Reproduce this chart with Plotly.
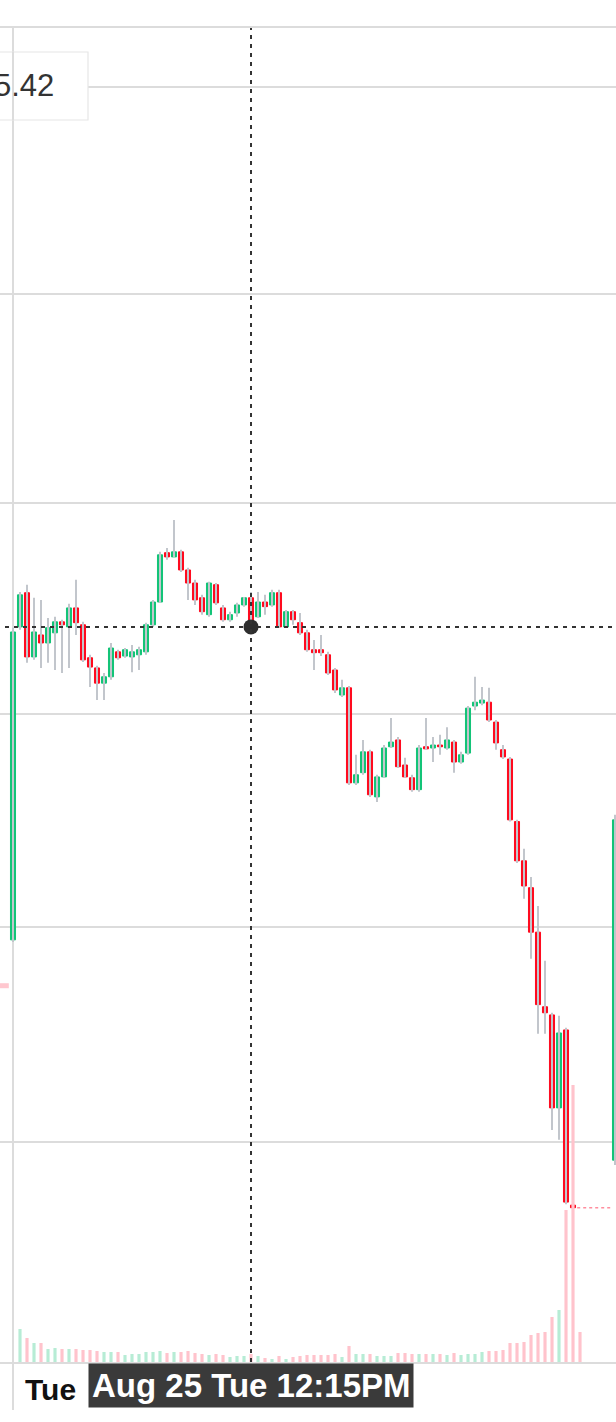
import plotly.graph_objects as go

# ---------------- data ----------------
# bar slots (5-minute bars of the session; slot 86 = first bar of the next session)
bar_slot = list(range(81)) + [86]
opens = [5.3470, 5.4206, 5.4287, 5.4135, 5.4187, 5.4168, 5.4192, 5.4218, 5.4206, 5.4251,
         5.4211, 5.4133, 5.4109, 5.4073, 5.4088, 5.4147, 5.4137, 5.4135, 5.4140, 5.4147,
         5.4211, 5.4265, 5.4382, 5.4372, 5.4384, 5.4341, 5.4310, 5.4275, 5.4235, 5.4306,
         5.4251, 5.4223, 5.4239, 5.4258, 5.4275, 5.4230, 5.4265, 5.4258, 5.4287, 5.4206,
         5.4242, 5.4216, 5.4192, 5.4152, 5.4152, 5.4140, 5.4104, 5.4045, 5.4062, 5.3838,
         5.3862, 5.3911, 5.3805, 5.3852, 5.3923, 5.3939, 5.3880, 5.3850, 5.3822, 5.3923,
         5.3920, 5.3927, 5.3920, 5.3934, 5.3887, 5.3908, 5.4019, 5.4026, 5.4028, 5.3981,
         5.3916, 5.3894, 5.3747, 5.3655, 5.3592, 5.3488, 5.3314, 5.3295, 5.3079, 5.3260,
         5.2854, 5.2958]
highs = [5.4204, 5.4289, 5.4306, 5.4275, 5.4270, 5.4227, 5.4230, 5.4223, 5.4261, 5.4318,
         5.4218, 5.4140, 5.4114, 5.4097, 5.4168, 5.4152, 5.4156, 5.4163, 5.4159, 5.4216,
         5.4270, 5.4384, 5.4393, 5.4460, 5.4389, 5.4346, 5.4318, 5.4282, 5.4313, 5.4310,
         5.4258, 5.4242, 5.4263, 5.4277, 5.4289, 5.4289, 5.4282, 5.4294, 5.4294, 5.4246,
         5.4246, 5.4239, 5.4199, 5.4175, 5.4187, 5.4147, 5.4109, 5.4081, 5.4066, 5.3904,
         5.3939, 5.3916, 5.3857, 5.3927, 5.3991, 5.3946, 5.3897, 5.3857, 5.3927, 5.3991,
         5.3946, 5.3951, 5.3969, 5.3939, 5.3911, 5.4019, 5.4088, 5.4064, 5.4062, 5.3986,
         5.3927, 5.3899, 5.3751, 5.3683, 5.3617, 5.3549, 5.3421, 5.3300, 5.3293, 5.3265,
         5.2856, 5.3763]
lows = [5.3465, 5.4199, 5.4121, 5.4128, 5.4109, 5.4121, 5.4104, 5.4097, 5.4109, 5.4187,
        5.4123, 5.4064, 5.4033, 5.4033, 5.4081, 5.4128, 5.4133, 5.4099, 5.4104, 5.4140,
        5.4206, 5.4263, 5.4365, 5.4372, 5.4336, 5.4270, 5.4258, 5.4235, 5.4230, 5.4258,
        5.4218, 5.4218, 5.4230, 5.4254, 5.4204, 5.4227, 5.4235, 5.4254, 5.4204, 5.4204,
        5.4211, 5.4187, 5.4147, 5.4104, 5.4137, 5.4092, 5.4050, 5.4040, 5.3833, 5.3833,
        5.3857, 5.3805, 5.3793, 5.3850, 5.3920, 5.3873, 5.3850, 5.3817, 5.3817, 5.3916,
        5.3887, 5.3904, 5.3916, 5.3862, 5.3883, 5.3904, 5.4009, 5.4021, 5.3981, 5.3916,
        5.3894, 5.3747, 5.3650, 5.3566, 5.3426, 5.3251, 5.3251, 5.3028, 5.3005, 5.2856,
        5.2844, 5.2947]
closes = [5.4194, 5.4282, 5.4135, 5.4194, 5.4168, 5.4204, 5.4218, 5.4211, 5.4251, 5.4216,
          5.4128, 5.4111, 5.4073, 5.4088, 5.4156, 5.4133, 5.4152, 5.4147, 5.4152, 5.4211,
          5.4265, 5.4377, 5.4372, 5.4384, 5.4341, 5.4310, 5.4270, 5.4242, 5.4310, 5.4263,
          5.4223, 5.4235, 5.4258, 5.4275, 5.4206, 5.4265, 5.4254, 5.4287, 5.4206, 5.4242,
          5.4223, 5.4192, 5.4152, 5.4145, 5.4145, 5.4097, 5.4057, 5.4062, 5.3838, 5.3857,
          5.3911, 5.3810, 5.3852, 5.3920, 5.3934, 5.3876, 5.3852, 5.3822, 5.3920, 5.3918,
          5.3927, 5.3923, 5.3939, 5.3887, 5.3904, 5.4014, 5.4028, 5.4033, 5.3986, 5.3932,
          5.3899, 5.3751, 5.3655, 5.3596, 5.3488, 5.3319, 5.3300, 5.3079, 5.3253, 5.2861,
          5.2848, 5.3751]

volume_slot = list(range(82))
volumes = [0, 33000, 24000, 19000, 19000, 13000, 14000, 13000, 13000, 13000,
           12000, 12000, 11000, 10000, 10000, 10000, 7000, 8000, 8000, 10000,
           10000, 11000, 9000, 10000, 10000, 11000, 9000, 8000, 7000, 8000,
           7000, 5000, 6000, 6000, 8000, 6000, 4000, 3000, 6000, 3000,
           5000, 6000, 7000, 7000, 7000, 7000, 8000, 5000, 16000, 8000,
           8000, 8000, 6000, 6000, 6000, 9000, 9000, 8000, 8000, 8000,
           8000, 8000, 7000, 9000, 7000, 8000, 8000, 10000, 11000, 11000,
           12000, 19000, 19000, 20000, 27000, 29000, 30000, 45000, 52000, 152000,
           277000, 30000]

prev_session_close = 5.3363
hover_slot = 34
hover_label = "Aug 25 Tue 12:15PM"
day_label = "Tue"
price_grid = [5.30, 5.35, 5.40, 5.45, 5.50, 5.55]

# ---------------- styles ----------------
UP = "#12c477"
DOWN = "#ff0a1e"
WICK = "#c2c6cc"
VOL_UP = "#b7ecd5"
VOL_DOWN = "#ffc3cc"
GRID = "#dcdcdc"
CROSS = "#333333"
FONT = "Liberation Sans, Arial, sans-serif"

W, H = 616, 1422
M_T, M_B = 28, 60
PLOT_H = H - M_T - M_B

fig = go.Figure()

# volume (secondary axis)
is_up = {s: c >= o for s, o, c in zip(bar_slot, opens, closes)}
vol_colors = [VOL_UP if is_up.get(s, False) else VOL_DOWN for s in volume_slot]
fig.add_trace(go.Bar(x=volume_slot, y=volumes, yaxis="y2", marker_color=vol_colors,
                     marker_line_width=0, width=0.45, hoverinfo="skip"))

# previous session close segment
fig.add_trace(go.Scatter(x=[-2.5, -0.6], y=[prev_session_close] * 2, mode="lines",
                         line=dict(color="#ffc7cf", width=5), hoverinfo="skip"))

# wicks
wx, wy = [], []
for s, h, l in zip(bar_slot, highs, lows):
    wx += [s, s, None]
    wy += [l, h, None]
fig.add_trace(go.Scatter(x=wx, y=wy, mode="lines", line=dict(color=WICK, width=2),
                         hoverinfo="skip"))

# bodies
body_hi = [max(o, c) for o, c in zip(opens, closes)]
body_lo = [min(o, c) for o, c in zip(opens, closes)]
fig.add_trace(go.Candlestick(
    x=bar_slot, open=opens, high=body_hi, low=body_lo, close=closes,
    increasing=dict(fillcolor=UP, line=dict(color=UP, width=1)),
    decreasing=dict(fillcolor=DOWN, line=dict(color=DOWN, width=1)),
    whiskerwidth=0, hoverinfo="skip"))

# post-close price line
last_close = closes[bar_slot.index(80)]
fig.add_trace(go.Scatter(x=[80.6, 85.6], y=[last_close] * 2, mode="lines",
                         line=dict(color="#ff8e9e", width=1.5, dash="3px,3px"),
                         hoverinfo="skip"))

# crosshair
hover_close = closes[bar_slot.index(hover_slot)]
fig.add_trace(go.Scatter(x=[-5, 95], y=[hover_close] * 2, mode="lines",
                         line=dict(color=CROSS, width=2, dash="4px,5px"), hoverinfo="skip"))
fig.add_shape(type="line", xref="x", yref="paper", x0=hover_slot, x1=hover_slot, y0=0, y1=1,
              line=dict(color=CROSS, width=2, dash="4px,5px"), layer="above")
fig.add_trace(go.Scatter(x=[hover_slot], y=[hover_close], mode="markers",
                         marker=dict(color="#2e2e2e", size=15), hoverinfo="skip"))

# tooltip box (top-left, partly cut off)
box_top, box_bot = (H - M_B - 52) / PLOT_H, (H - M_B - 120) / PLOT_H
fig.add_shape(type="rect", xref="paper", yref="paper", x0=-0.1, x1=88 / W,
              y0=box_bot, y1=box_top, fillcolor="white",
              line=dict(color="#e6e6e6", width=1.2), layer="above")
fig.add_shape(type="line", xref="x", yref="paper", x0=0, x1=0, y0=box_bot, y1=box_top,
              line=dict(color=GRID, width=2), layer="above")
fig.add_annotation(xref="paper", yref="paper", x=56 / W, y=(box_top + box_bot) / 2,
                   xanchor="right", yanchor="middle", showarrow=False,
                   text=f"{hover_close:.2f}", font=dict(family=FONT, size=31, color="#333333"))

# day label and crosshair date label
fig.add_annotation(xref="x", yref="paper", x=0, y=0, xanchor="left", yanchor="top",
                   xshift=10, yshift=-9, showarrow=False, text=f"<b>{day_label}</b>",
                   font=dict(family=FONT, size=30, color="#111111"))
fig.add_annotation(xref="x", yref="paper", x=hover_slot, y=0, xanchor="center", yanchor="top",
                   yshift=-1, showarrow=False, text=f"<b>{hover_label}</b>",
                   font=dict(family=FONT, size=33, color="white"),
                   bgcolor="#3a3a3a", borderpad=3)

fig.update_layout(
    width=W, height=H,
    margin=dict(l=0, r=0, t=M_T, b=M_B),
    paper_bgcolor="white", plot_bgcolor="white",
    showlegend=False, hovermode=False,
    boxgap=0.15, boxgroupgap=0.15, boxmode="overlay",
    xaxis=dict(range=[-13 / 7, 603 / 7], tickvals=[0], ticktext=[""],
               showticklabels=False, showgrid=True, gridcolor=GRID, gridwidth=2,
               ticks="outside", ticklen=46, tickwidth=2, tickcolor=GRID,
               showline=True, linecolor=GRID, linewidth=2, mirror=True,
               zeroline=False, rangeslider=dict(visible=False)),
    yaxis=dict(type="log", range=[0.720102, 0.745409], tickvals=price_grid,
               showticklabels=False, showgrid=True, gridcolor=GRID, gridwidth=2,
               zeroline=False, showline=False, ticks=""),
    yaxis2=dict(overlaying="y", range=[0, PLOT_H * 1000], visible=False, showgrid=False),
)

fig.write_html("out.html",
               config={"displayModeBar": False},
               post_script="document.body.style.margin='0';document.body.style.overflow='hidden';")
